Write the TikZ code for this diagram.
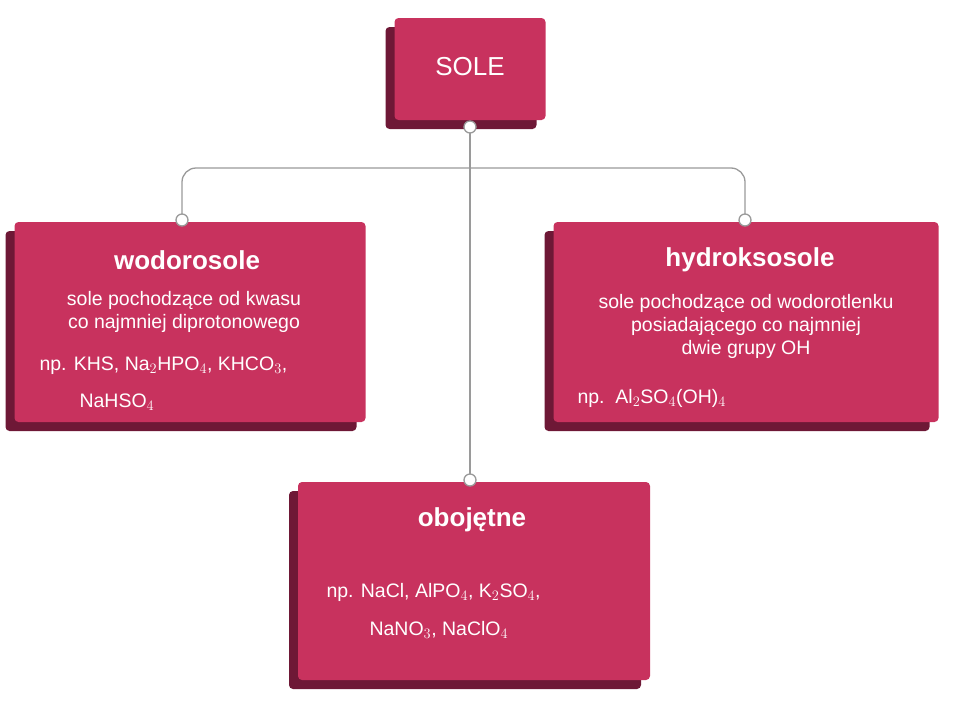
\documentclass[tikz,border=0pt]{standalone}
\usepackage{fontspec}
\setmainfont{Liberation Sans}
\usetikzlibrary{shadows}
\definecolor{salt}{HTML}{C8325E}
\definecolor{saltdark}{HTML}{6E1836}
\definecolor{wire}{HTML}{9A9A9A}
\tikzset{
  saltbox/.style={fill=salt, rounded corners=4pt, inner sep=0pt,
    drop shadow={shadow xshift=-9pt, shadow yshift=-9pt, fill=saltdark, opacity=1}},
  title/.style={text=white, font=\bfseries\fontsize{26}{30}\selectfont},
  body/.style={text=white, font=\fontsize{19.5}{23}\selectfont, align=center},
  link/.style={draw=wire, line width=1.3pt},
  joint/.style={circle, draw=wire, fill=white, line width=1.3pt, inner sep=0pt, minimum size=12pt}
}
\begin{document}
\begin{tikzpicture}[x=1pt,y=-1pt]
  \useasboundingbox (0,0) rectangle (960,720);
  % boxes
  \node[saltbox, minimum width=151pt, minimum height=102pt] (sole) at (470,69) {};
  \node[saltbox, minimum width=351pt, minimum height=200pt] (wodoro) at (190,322) {};
  \node[saltbox, minimum width=385pt, minimum height=200pt] (hydro) at (746,322) {};
  \node[saltbox, minimum width=352pt, minimum height=198pt] (oboj) at (474,581) {};
  % connectors
  \coordinate (top) at (470,127);
  \coordinate (left) at (182,220);
  \coordinate (right) at (745,220);
  \coordinate (bottom) at (470,480);
  \draw[link] (top) -- (bottom);
  \draw[link, rounded corners=14pt] (left) -- (182,168) -- (745,168) -- (right);
  \foreach \p in {top,left,right,bottom}
    \node[joint] at (\p) {};
  % texts
  \node[text=white, font=\fontsize{26}{30}\selectfont] (soletxt) at (470,67) {SOLE};
  \node[title] (wodorot) at (187,260) {wodorosole};
  \node[body] (wodorob) at (184,312) {sole pochodzące od kwasu\\co najmniej diprotonowego};
  \node[body, anchor=west] (wodoroc) at (36,366) {np. KHS, Na$_2$HPO$_4$, KHCO$_3$,};
  \node[body, anchor=west] (wodorod) at (76,402) {NaHSO$_4$};
  \node[title] (hydrot) at (750,260) {hydroksosole};
  \node[body] (hydrob) at (746,326) {sole pochodzące od wodorotlenku\\posiadającego co najmniej\\dwie grupy OH};
  \node[body, anchor=west] (hydroc) at (574,398) {np.\ \ Al$_2$SO$_4$(OH)$_4$};
  \node[title] (obojt) at (472,520) {obojętne};
  \node[body, anchor=west] (obojb) at (323,592) {np. NaCl, AlPO$_4$, K$_2$SO$_4$,};
  \node[body, anchor=west] (obojc) at (366,630) {NaNO$_3$, NaClO$_4$};
\end{tikzpicture}
\end{document}
